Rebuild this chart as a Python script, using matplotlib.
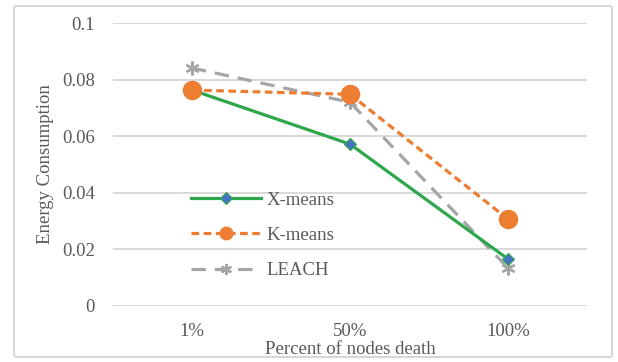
import matplotlib
matplotlib.use('Agg')
import matplotlib.pyplot as plt
from matplotlib.patches import FancyBboxPatch

plt.rcParams['font.family'] = ['Liberation Serif', 'DejaVu Serif']

# data
categories = ['1%', '50%', '100%']
xmeans = [0.0763, 0.0572, 0.0166]
kmeans = [0.0763, 0.0748, 0.0307]
leach = [0.0841, 0.0720, 0.0134]
yticks = [0, 0.02, 0.04, 0.06, 0.08, 0.1]
yticklabels = ['0', '0.02', '0.04', '0.06', '0.08', '0.1']

green = '#2ea64b'
orange = '#ed7d31'
gray = '#a5a5a5'
blue = '#4472c4'
txt = '#595959'

fig = plt.figure(figsize=(6.18, 3.62), dpi=100)
ax = fig.add_axes([113/618, 1-306/362, 474/618, 283/362])

# outer chart border
border = FancyBboxPatch((14/618, 5/362), 598/618, 351/362,
                        boxstyle='round,pad=0,rounding_size=0.005',
                        transform=fig.transFigure, fill=False,
                        edgecolor='#d0d0d0', lw=1.2)
fig.patches.append(border)

x = range(len(categories))
ax.plot(x, leach, color=gray, lw=2.3, linestyle=(0, (4.5, 2.8)),
        marker=(6, 2, 0), markersize=10, markeredgewidth=1.6,
        markeredgecolor=gray, label='LEACH', zorder=3)
ax.plot(x, xmeans, color=green, lw=2.3, marker='D', markersize=6,
        markerfacecolor=blue, markeredgecolor=green, markeredgewidth=0.8,
        label='X-means', zorder=4)
ax.plot(x, kmeans, color=orange, lw=2.3, linestyle=(0, (2.4, 1.4)),
        marker='o', markersize=13, markerfacecolor=orange,
        markeredgecolor=orange, label='K-means', zorder=5)

ax.set_xlim(-0.5, 2.5)
ax.set_ylim(0, 0.1)
ax.set_xticks(list(x))
ax.set_xticklabels(categories)
ax.set_yticks(yticks)
ax.set_yticklabels(yticklabels)
ax.tick_params(length=0, labelsize=13.5, colors=txt, pad=13)
ax.tick_params(axis='x', pad=12)
ax.grid(axis='y', color='#d9d9d9', lw=1.4)
ax.set_axisbelow(True)
for s in ax.spines.values():
    s.set_visible(False)

ax.set_ylabel('Energy Consumption', fontsize=13.5, color=txt, labelpad=6)
ax.set_xlabel('Percent of nodes death', fontsize=13.5, color=txt, labelpad=1)

h, l = ax.get_legend_handles_labels()
order = [1, 2, 0]
leg = ax.legend([h[i] for i in order], [l[i] for i in order],
                loc='upper left', bbox_to_anchor=(0.165, 0.405),
                frameon=False, fontsize=13.5, handlelength=3.7,
                handletextpad=0.3, labelspacing=0.97, borderaxespad=0,
                borderpad=0)
for t in leg.get_texts():
    t.set_color(txt)
leg.legend_handles[1].set_markersize(9)
leg.legend_handles[2].set_markersize(8)

fig.savefig('out.png', dpi=100)
